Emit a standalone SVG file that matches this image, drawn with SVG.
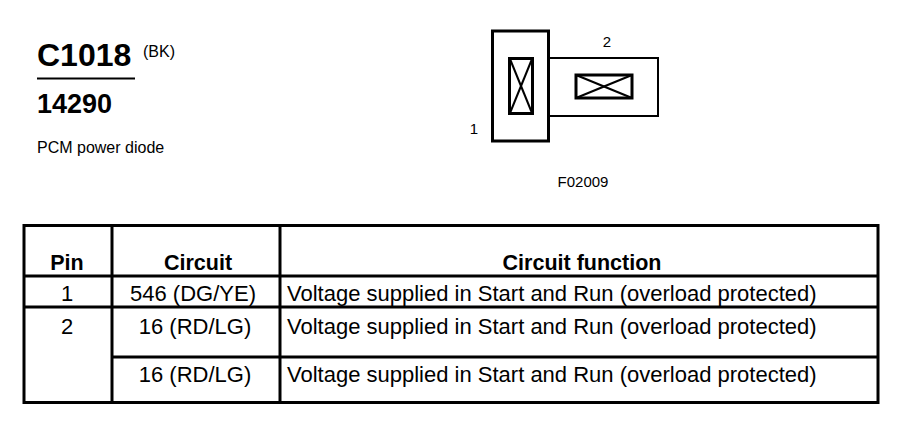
<svg xmlns="http://www.w3.org/2000/svg" width="902" height="448" viewBox="0 0 902 448">
<style>
.t{font-family:"Liberation Sans",Arial,sans-serif;fill:#000}
.b{font-weight:bold}
.ln{stroke:#000;fill:none}
.c{text-anchor:middle}
.r{font-size:22px}
.h{font-size:21.5px}
</style>
<rect width="902" height="448" fill="#fff"/>
<g id="title">
<text class="t b" x="37" y="66" font-size="32">C1018</text>
<text class="t" x="143" y="57" font-size="16">(BK)</text>
<line class="ln" x1="37" y1="78.5" x2="135" y2="78.5" stroke-width="2"/>
<text class="t b" x="37" y="113" font-size="27">14290</text>
<text class="t" x="37" y="153" font-size="16">PCM power diode</text>
</g>
<g id="connector">
<rect class="ln" x="492.5" y="31" width="56" height="110" stroke-width="3"/>
<rect class="ln" x="509.5" y="58.5" width="23" height="55" stroke-width="3"/>
<line class="ln" x1="510" y1="59" x2="532" y2="113" stroke-width="2"/>
<line class="ln" x1="532" y1="59" x2="510" y2="113" stroke-width="2"/>
<rect class="ln" x="549" y="58" width="109" height="58" stroke-width="2"/>
<rect class="ln" x="576" y="75" width="56" height="23" stroke-width="3"/>
<line class="ln" x1="576" y1="75" x2="632" y2="98" stroke-width="2"/>
<line class="ln" x1="632" y1="75" x2="576" y2="98" stroke-width="2"/>
<text class="t c" x="607" y="47" font-size="15">2</text>
<text class="t c" x="474" y="134" font-size="15">1</text>
<text class="t c" x="583" y="187" font-size="15">F02009</text>
</g>
<g id="table">
<rect class="ln" x="24" y="225.5" width="854" height="177" stroke-width="3"/>
<line class="ln" x1="112" y1="225" x2="112" y2="403" stroke-width="3"/>
<line class="ln" x1="280" y1="225" x2="280" y2="403" stroke-width="3"/>
<line class="ln" x1="24" y1="276" x2="878" y2="276" stroke-width="3"/>
<line class="ln" x1="24" y1="307" x2="878" y2="307" stroke-width="3"/>
<line class="ln" x1="112" y1="357" x2="878" y2="357" stroke-width="3"/>
<text class="t b c h" x="67" y="270">Pin</text>
<text class="t b c h" x="198" y="270">Circuit</text>
<text class="t b c h" x="582" y="270">Circuit function</text>
<text class="t c r" x="67" y="301">1</text>
<text class="t c r" x="193" y="301">546 (DG/YE)</text>
<text class="t r" x="287" y="301">Voltage supplied in Start and Run (overload protected)</text>
<text class="t c r" x="67" y="334">2</text>
<text class="t c r" x="195" y="334">16 (RD/LG)</text>
<text class="t r" x="287" y="334">Voltage supplied in Start and Run (overload protected)</text>
<text class="t c r" x="195" y="382">16 (RD/LG)</text>
<text class="t r" x="287" y="382">Voltage supplied in Start and Run (overload protected)</text>
</g>
</svg>
